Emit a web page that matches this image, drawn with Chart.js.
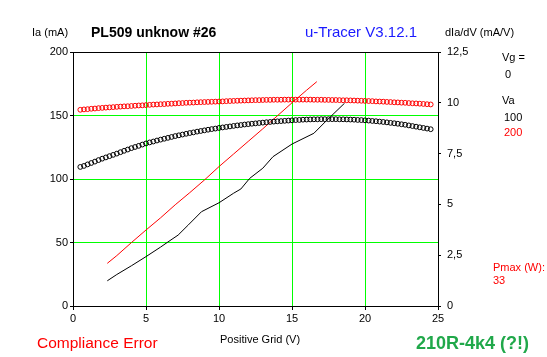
<!DOCTYPE html>
<html>
<head>
<meta charset="utf-8">
<script src="https://cdn.jsdelivr.net/npm/chart.js@4/dist/chart.umd.min.js"></script>
<style>
html,body{margin:0;padding:0;background:#fff;}
canvas{display:block;}
</style>
</head>
<body>
<canvas id="c" width="547" height="357"></canvas>
<script>
// ---- data ----
const vgIa = [0.5,0.75,1,1.25,1.5,1.75,2,2.25,2.5,2.75,3,3.25,3.5,3.75,4,4.25,4.5,4.75,5,5.25,5.5,5.75,6,6.25,6.5,6.75,7,7.25,7.5,7.75,8,8.25,8.5,8.75,9,9.25,9.5,9.75,10,10.25,10.5,10.75,11,11.25,11.5,11.75,12,12.25,12.5,12.75,13,13.25,13.5,13.75,14,14.25,14.5,14.75,15,15.25,15.5,15.75,16,16.25,16.5,16.75,17,17.25,17.5,17.75,18,18.25,18.5,18.75,19,19.25,19.5,19.75,20,20.25,20.5,20.75,21,21.25,21.5,21.75,22,22.25,22.5,22.75,23,23.25,23.5,23.75,24,24.25,24.5];
const ia200 = [154.5,154.8,155.0,155.3,155.5,155.8,156.0,156.2,156.4,156.6,156.8,157.0,157.2,157.3,157.5,157.7,157.9,158.0,158.2,158.4,158.6,158.7,158.9,159.0,159.2,159.3,159.5,159.7,159.8,160.0,160.1,160.2,160.4,160.5,160.6,160.7,160.8,160.9,161.0,161.1,161.3,161.4,161.5,161.6,161.7,161.8,161.9,162.0,162.1,162.1,162.2,162.3,162.3,162.4,162.4,162.4,162.5,162.5,162.5,162.5,162.5,162.5,162.5,162.5,162.4,162.4,162.4,162.3,162.3,162.2,162.2,162.1,162.0,162.0,161.9,161.8,161.7,161.6,161.5,161.4,161.3,161.1,161.0,160.9,160.7,160.6,160.4,160.3,160.1,160.0,159.8,159.6,159.5,159.3,159.1,158.9,158.7];
const ia100 = [109.5,110.3,111.5,112.6,113.7,114.9,116.0,117.0,118.0,119.0,120.0,121.1,122.2,123.2,124.3,125.2,126.1,127.1,128.0,128.8,129.5,130.3,131.0,131.7,132.4,133.1,133.8,134.4,135.0,135.6,136.2,136.7,137.3,137.8,138.3,138.8,139.3,139.7,140.2,140.6,141.0,141.4,141.8,142.2,142.5,142.9,143.2,143.5,143.8,144.1,144.4,144.7,144.9,145.2,145.4,145.6,145.8,146.0,146.2,146.4,146.5,146.7,146.8,146.9,147.0,147.0,147.1,147.1,147.1,147.1,147.1,147.0,147.0,146.9,146.8,146.7,146.5,146.4,146.2,146.0,145.7,145.5,145.2,144.9,144.6,144.2,143.9,143.5,143.1,142.7,142.2,141.7,141.2,140.7,140.2,139.7,139.2];
const vgGm200 = [2.35,3,4,5,6,7,8,9,10,11,12,13,14,15,16,16.7];
const gm200 = [2.10,2.48,3.12,3.74,4.34,4.98,5.58,6.20,6.86,7.48,8.10,8.72,9.36,10.0,10.62,11.04];
const vgGm100 = [2.35,3,4,5,6,6.5,7.2,7.9,8.8,10,11,11.5,12.1,13,13.7,15,16.5,17.4,18.6];
const gm100 = [1.24,1.55,1.98,2.43,2.9,3.15,3.49,3.99,4.64,5.08,5.55,5.76,6.28,6.78,7.35,7.97,8.5,9.15,9.98];
const xTickLabels = ['0','5','10','15','20','25'];
const yTickLabels = ['0','50','100','150','200'];
const y2TickLabels = ['0','2,5','5','7,5','10','12,5'];
const vaLabels = ['100','200'];

// ---- build ----
const pts = (xs, ys) => xs.map((x,i)=>({x:x, y:ys[i]}));
const FONT = '"Liberation Sans", Arial, sans-serif';

const textPlugin = {
  id:'texts',
  afterDraw(chart){
    const c = chart.ctx;
    c.save();
    c.textBaseline = 'middle';
    c.textAlign = 'left';
    const t = (s, x, y, font, color) => { c.font = font; c.fillStyle = color; c.fillText(s, x, y); };
    const f11 = '11px ' + FONT;
    t('Ia (mA)', 32, 33, f11, '#000');
    t('PL509 unknow #26', 91, 33, 'bold 14px ' + FONT, '#000');
    t('u-Tracer V3.12.1', 305, 33, '15px ' + FONT, '#1a1aff');
    t('dIa/dV (mA/V)', 445, 33, f11, '#000');
    t('Vg =', 502, 58, f11, '#000');
    t('0', 505, 75, f11, '#000');
    t('Va', 502, 101, f11, '#000');
    t(vaLabels[0], 504, 118, f11, '#000');
    t(vaLabels[1], 504, 133, f11, '#ff0000');
    t('Pmax (W):', 493, 268, f11, '#ff0000');
    t('33', 493, 281, f11, '#ff0000');
    t('Compliance Error', 37, 344, '15.5px ' + FONT, '#ff0000');
    t('Positive Grid (V)', 220, 340, f11, '#000');
    t('210R-4k4 (?!)', 416, 344, 'bold 18px ' + FONT, '#20a84a');
    c.restore();
  }
};

new Chart(document.getElementById('c'), {
  type:'scatter',
  data:{
    datasets:[
      {label:'Ia 200', data:pts(vgIa, ia200), yAxisID:'y', showLine:false,
       pointStyle:'circle', pointRadius:2.4, pointBorderWidth:1, borderColor:'#ff0000', backgroundColor:'rgba(0,0,0,0)'},
      {label:'Ia 100', data:pts(vgIa, ia100), yAxisID:'y', showLine:false,
       pointStyle:'circle', pointRadius:2.4, pointBorderWidth:1, borderColor:'#000000', backgroundColor:'rgba(0,0,0,0)'},
      {label:'gm 200', data:pts(vgGm200, gm200), yAxisID:'y2', showLine:true, pointRadius:0,
       borderColor:'#ff0000', borderWidth:1, tension:0},
      {label:'gm 100', data:pts(vgGm100, gm100), yAxisID:'y2', showLine:true, pointRadius:0,
       borderColor:'#000000', borderWidth:1, tension:0}
    ]
  },
  options:{
    responsive:false, animation:false, devicePixelRatio:1,
    layout:{padding:{top:52,left:0,right:0,bottom:0}},
    plugins:{legend:{display:false}, tooltip:{enabled:false}, title:{display:false}},
    scales:{
      x:{type:'linear', position:'bottom', min:0, max:25,
        afterFit(s){ s.height = 51; },
        ticks:{stepSize:5, color:'#000', font:{family:FONT, size:11}, padding:2, maxRotation:0,
          callback:(v)=>{ const i = xTickLabels.indexOf(String(v)); return i>=0 ? xTickLabels[i] : ''; }},
        grid:{color:(ctx)=> (ctx.tick && (ctx.tick.value===0 || ctx.tick.value===25)) ? 'rgba(0,0,0,0)' : '#00ff00',
          tickColor:'#000', tickLength:4, lineWidth:1},
        border:{color:'#000', width:1}},
      y:{type:'linear', position:'left', min:0, max:200,
        afterFit(s){ s.width = 73; },
        ticks:{stepSize:50, color:'#000', font:{family:FONT, size:11}, padding:2,
          callback:(v)=>{ const i = yTickLabels.indexOf(String(v)); return i>=0 ? yTickLabels[i] : ''; }},
        grid:{color:(ctx)=> !ctx.tick ? '#00ff00' : (ctx.tick.value===200 ? '#000' : (ctx.tick.value===0 ? 'rgba(0,0,0,0)' : '#00ff00')),
          tickColor:'#000', tickLength:3, lineWidth:1},
        border:{color:'#000', width:1}},
      y2:{type:'linear', position:'right', min:0, max:12.5,
        afterFit(s){ s.width = 109; },
        ticks:{stepSize:2.5, color:'#000', font:{family:FONT, size:11}, padding:6,
          callback:(v)=>{ const i = Math.round(v/2.5); return y2TickLabels[i] !== undefined ? y2TickLabels[i] : ''; }},
        grid:{drawOnChartArea:false, tickColor:'#000', tickLength:3},
        border:{color:'#000', width:1}}
    }
  },
  plugins:[textPlugin]
});
</script>
</body>
</html>
